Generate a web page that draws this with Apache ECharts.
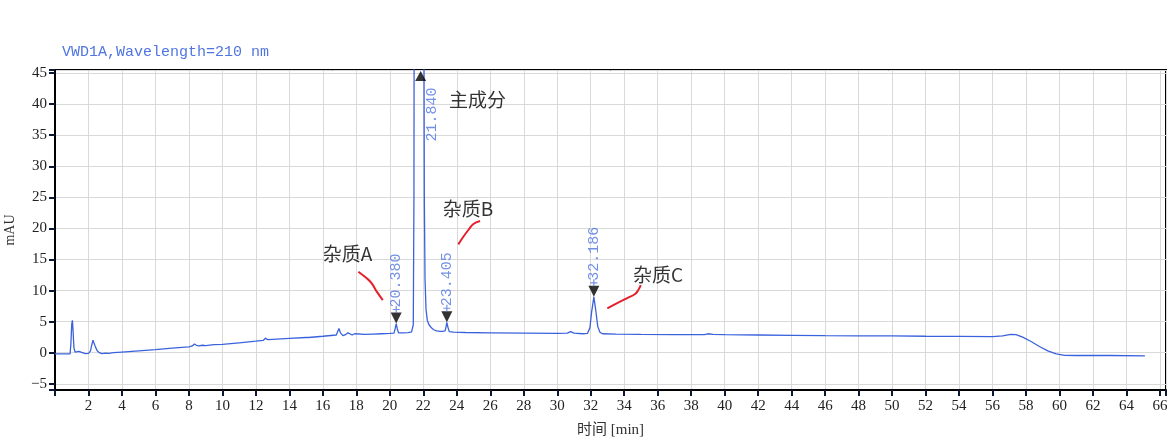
<!DOCTYPE html>
<html><head><meta charset="utf-8">
<script src="https://cdn.jsdelivr.net/npm/echarts@6/dist/echarts.min.js"></script>
<style>html,body{margin:0;padding:0;background:#fff}#c{width:1176px;height:446px}</style>
</head><body><div id="c"></div>
<script>
// ---- data ----
const titleText = 'VWD1A,Wavelength=210 nm';
const xAxisName = '时间 [min]';
const yAxisName = 'mAU';
const xRange = [0, 66.36];
const yRange = [-6, 45.5];
// chromatogram: [time (min), signal (mAU)]
const chromatogram = [
[0,-0.2],[0.5,-0.2],[0.9,-0.2],[0.95,1.5],[1.0,4.6],[1.04,5.2],[1.08,3.5],[1.13,0.8],[1.2,0.1],[1.3,0.0],[1.42,0.2],[1.48,0.35],[1.55,0.1],[1.65,-0.1],[1.8,-0.15],[2.0,-0.1],[2.12,0.3],[2.2,1.3],[2.27,2.0],[2.33,1.7],[2.42,0.9],[2.52,0.3],[2.65,0.0],[2.8,-0.15],[3.0,-0.05],[3.2,-0.1],[3.5,0.0],[4,0.1],[5,0.3],[6,0.5],[7,0.75],[8,0.95],[8.2,1.1],[8.33,1.4],[8.45,1.2],[8.6,1.1],[8.8,1.2],[9,1.15],[9.5,1.3],[10,1.35],[11,1.6],[12,1.85],[12.45,2.0],[12.57,2.35],[12.7,2.1],[13,2.15],[14,2.3],[15,2.45],[15.06,2.6],[15.15,2.45],[16,2.65],[16.8,2.85],[16.9,3.5],[16.96,3.9],[17.05,3.2],[17.2,2.75],[17.35,2.9],[17.5,3.2],[17.6,3.0],[17.75,2.85],[17.9,3.05],[18.0,2.9],[18.5,2.95],[19,3.0],[19.5,3.05],[20,3.1],[20.25,3.15],[20.32,3.9],[20.38,4.7],[20.44,3.9],[20.52,3.2],[20.8,3.2],[21.1,3.25],[21.3,3.35],[21.4,4.5],[21.44,25],[21.48,120],[21.6,350],[21.84,420],[22.0,200],[22.03,60],[22.06,25],[22.1,12],[22.16,7],[22.24,5.2],[22.34,4.5],[22.48,4.0],[22.62,3.7],[22.8,3.5],[23.0,3.45],[23.08,3.6],[23.15,3.45],[23.3,3.5],[23.36,4.2],[23.405,4.9],[23.46,4.2],[23.55,3.4],[23.8,3.3],[24.5,3.25],[26,3.2],[28,3.15],[30,3.1],[30.6,3.15],[30.8,3.4],[31.0,3.15],[31.5,3.05],[31.8,3.1],[31.95,4.0],[32.05,6.5],[32.186,9.0],[32.3,6.8],[32.42,4.2],[32.55,3.3],[32.7,3.05],[33.5,3.0],[35,2.95],[37,2.9],[38.8,2.9],[39,3.05],[39.3,2.95],[40,2.9],[42,2.85],[44,2.8],[46,2.75],[48,2.72],[50,2.7],[52,2.65],[54,2.62],[56,2.6],[56.6,2.7],[57.1,2.95],[57.4,2.9],[57.8,2.5],[58.3,1.8],[58.8,1.0],[59.3,0.3],[59.8,-0.2],[60.3,-0.42],[61,-0.45],[63,-0.45],[65.1,-0.5]
];
// integrated peaks: [time, apex signal, label]
const peaks = [[20.38, 4.7, '20.380'], [23.405, 4.9, '23.405'], [32.186, 9.0, '32.186']];
// main (off-scale) peak
const mainPeak = [21.84, 45.5, '21.840'];
const mainPeakLabelAt = [22.52, 34.0];
// annotations: [time, signal, text]
const annotations = [[17.47, 16.0, '杂质A'], [24.67, 23.24, '杂质B'], [36.02, 12.5, '杂质C'], [25.24, 40.67, '主成分']];
// hand-drawn red leader strokes
const strokeA = [[18.12,13.04],[18.62,11.98],[18.92,11.17],[19.22,9.83],[19.58,8.48]];
const strokeB = [[24.09,17.44],[24.39,18.67],[24.69,19.75],[24.99,20.71],[25.39,21.19]];
const strokeC = [[32.99,7.15],[33.55,7.95],[34.15,8.75],[34.65,9.45],[34.84,10.09],[34.99,10.89]];

// ---- chart ----
const serif = '"Liberation Serif", "DejaVu Serif", serif';
const mono = '"Liberation Mono", "DejaVu Sans Mono", monospace';
const cjk = '"Noto Sans CJK SC", "Noto Sans", sans-serif';
const peakBlue = '#4f74e0';
const chart = echarts.init(document.getElementById('c'));
const strokeSeries = s => ({
  type: 'line', data: s, smooth: 0.4, symbol: 'none', silent: true, z: 5,
  lineStyle: { color: '#e3202c', width: 2 }
});
chart.setOption({
  animation: false,
  backgroundColor: '#fff',
  title: { text: titleText, left: 57, top: 40,
    textStyle: { fontFamily: mono, fontSize: 15, fontWeight: 'normal', color: '#5075e0' } },
  grid: { left: 55, right: 10, top: 70, bottom: 56, show: true, borderColor: '#000', borderWidth: 2,
    containLabel: false, outerBoundsMode: 'none' },
  xAxis: {
    type: 'value', min: xRange[0], max: xRange[1], interval: 2,
    name: xAxisName, nameLocation: 'middle', nameGap: 33,
    nameTextStyle: { fontFamily: serif + ', "Noto Sans CJK SC"', fontSize: 15, color: '#333' },
    axisLine: { show: true, onZero: false, lineStyle: { color: '#000', width: 2 } },
    axisTick: { show: true, length: 6, lineStyle: { color: '#0b1733', width: 2 } },
    axisLabel: { margin: 9, fontFamily: serif, fontSize: 15, color: '#222',
      formatter: v => (v > 0 && Math.abs(v % 2) < 1e-9) ? String(v) : '' },
    splitLine: { show: true, lineStyle: { color: '#d9d9d9', width: 1 } }
  },
  yAxis: {
    type: 'value', min: yRange[0], max: yRange[1], splitNumber: 10, minInterval: 5, maxInterval: 5,
    name: yAxisName, nameLocation: 'middle', nameGap: 38, nameRotate: 90,
    nameTextStyle: { fontFamily: serif, fontSize: 14, color: '#333' },
    axisLine: { show: true, onZero: false, lineStyle: { color: '#000', width: 2 } },
    axisTick: { show: true, length: 6, lineStyle: { color: '#0b1733', width: 2 } },
    axisLabel: { margin: 8, fontFamily: serif, fontSize: 15, color: '#222',
      formatter: v => (Math.abs(v % 5) < 1e-9) ? String(v).replace('-', '\u2212') : '' },
    splitLine: { show: true, lineStyle: { color: '#d9d9d9', width: 1 } }
  },
  series: [
    { type: 'line', data: chromatogram, symbol: 'none', clip: true, z: 3,
      lineStyle: { color: '#3b62dd', width: 1.3 } },
    { type: 'scatter', z: 6, clip: false,
      data: peaks.map(p => ({ value: [p[0], p[1]], name: p[2] })),
      symbol: 'triangle', symbolRotate: 180, symbolSize: [11, 11], symbolOffset: [0, -5.5],
      itemStyle: { color: '#000' },
      label: { show: true, formatter: p => p.name, position: 'top', rotate: 90, align: 'left',
        verticalAlign: 'middle', distance: 5, fontFamily: mono, fontSize: 15, color: peakBlue } },
    { type: 'scatter', z: 6, clip: false, silent: true,
      data: peaks.map(p => [p[0], p[1]]),
      symbol: 'path://M5,0L5,10M0,5L10,5', symbolSize: [7, 7], symbolOffset: [0, -14],
      itemStyle: { color: 'none', borderColor: peakBlue, borderWidth: 1.2 } },
    { type: 'scatter', z: 6, clip: false,
      data: [{ value: [mainPeak[0], mainPeak[1]] }],
      symbol: 'triangle', symbolSize: [11, 10], symbolOffset: [0, 6], itemStyle: { color: '#000' } },
    { type: 'scatter', z: 6, clip: false, symbolSize: 0,
      data: [{ value: mainPeakLabelAt, name: mainPeak[2] }],
      label: { show: true, formatter: p => p.name, position: 'inside', rotate: 90, align: 'left',
        verticalAlign: 'middle', fontFamily: mono, fontSize: 15, color: peakBlue } },
    { type: 'scatter', z: 6, clip: false, symbolSize: 0,
      data: annotations.map(a => ({ value: [a[0], a[1]], name: a[2] })),
      label: { show: true, formatter: p => p.name, position: 'inside',
        fontFamily: cjk, fontSize: 19, color: '#000' } },
    strokeSeries(strokeA), strokeSeries(strokeB), strokeSeries(strokeC)
  ]
});
</script></body></html>
